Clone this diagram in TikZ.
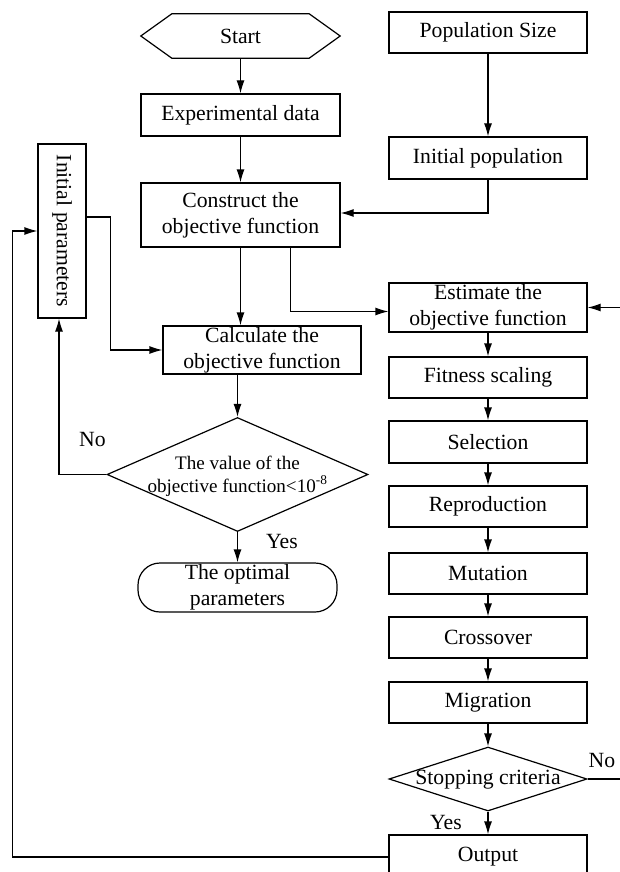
\documentclass[tikz,border=0pt]{standalone}
\usepackage{fontspec}
\setmainfont{Liberation Serif}
\usetikzlibrary{arrows.meta,shapes.geometric,calc}
\begin{document}
\begin{tikzpicture}[x=1pt,y=-1pt,
  every node/.style={font=\fontsize{21.7}{26}\selectfont, inner sep=0pt, align=center},
  box/.style={draw, line width=1.2pt, minimum width=198pt, minimum height=41pt},
  arr/.style={line width=1.2pt, -{Latex[length=13pt,width=8pt]}},
  ln/.style={line width=1.2pt},
  dia/.style={draw, diamond, line width=1.2pt, inner sep=0pt},
  lbl/.style={anchor=base}
]
\useasboundingbox (0,0) rectangle (619,872);

% left column
\node[minimum width=199pt, minimum height=44pt] (start) at (240.5,36) {Start};
\draw[ln] (start.west) -- ($(start.north west)+(31,0)$) -- ($(start.north east)+(-31,0)$)
  -- (start.east) -- ($(start.south east)+(-31,0)$) -- ($(start.south west)+(31,0)$) -- cycle;
\node[box, minimum width=199pt, minimum height=42pt] (expdata) at (240.5,115) {Experimental data};
\node[box, minimum width=199pt, minimum height=64pt] (construct) at (240.5,215) {Construct the\\objective function};
\node[box, minimum width=48pt, minimum height=174pt] (initparams) at (62,231) {};
\node[rotate=-90] (initparamst) at (62,231) {Initial parameters};
\node[box, minimum width=198pt, minimum height=48pt] (calc) at (262,350) {Calculate the\\objective function};
\node[dia, minimum width=261pt, minimum height=114pt] (dec1) at (237.5,474.5) {};
\node[font=\fontsize{19.1}{23}\selectfont] (dec1t) at (237.5,476) {The value of the\\objective function<10\textsuperscript{-8}};
\node[draw, line width=1.2pt, rounded corners=22pt, minimum width=199pt, minimum height=49pt] (optimal) at (237.5,587.5) {The optimal\\parameters};

% right column
\node[box] (popsize) at (488,32.5) {Population Size};
\node[box, minimum height=42pt] (initpop) at (488,158) {Initial population};
\node[box, minimum height=49pt] (estimate) at (488,307.5) {Estimate the\\objective function};
\node[box] (fitness) at (488,377.5) {Fitness scaling};
\node[box, minimum height=42pt] (selection) at (488,442) {Selection};
\node[box] (reproduction) at (488,506.5) {Reproduction};
\node[box] (mutation) at (488,573.5) {Mutation};
\node[box] (crossover) at (488,637.5) {Crossover};
\node[box] (migration) at (488,702.5) {Migration};
\node[dia, minimum width=198pt, minimum height=64pt] (stop) at (488,779) {};
\node (stopt) at (488,780) {Stopping criteria};
\node[box, minimum height=44pt] (output) at (488,857) {Output};

% labels
\node[lbl] (no1) at (92.5,446) {No};
\node[lbl] (yes1) at (282,548) {Yes};
\node[lbl] (no2) at (602,767) {No};
\node[lbl] (yes2) at (446,829) {Yes};

% connectors
\draw[arr] (start.south) -- (expdata.north);
\draw[arr] (expdata.south) -- (construct.north);
\draw[arr] (popsize.south) -- (initpop.north);
\draw[arr] (initpop.south) |- ($(construct.east)+(0,-2)$);
\draw[arr] (construct.south) -- (construct.south |- calc.north);
\draw[arr] ($(construct.south)+(50,0)$) |- ($(estimate.west)+(0,4)$);
\draw[arr] ($(initparams.east)+(0,-14)$) -| ($(calc.west)+(-52,0)$) -- (calc.west);
\draw[arr] (dec1.north |- calc.south) -- (dec1.north);
\draw[arr] (dec1.west) -| ($(initparams.south)+(-3,0)$);
\draw[arr] (dec1.south) -- (optimal.north);
\draw[arr] (estimate.south) -- (fitness.north);
\draw[arr] (fitness.south) -- (selection.north);
\draw[arr] (selection.south) -- (reproduction.north);
\draw[arr] (reproduction.south) -- (mutation.north);
\draw[arr] (mutation.south) -- (crossover.north);
\draw[arr] (crossover.south) -- (migration.north);
\draw[arr] (migration.south) -- (stop.north);
\draw[arr] (stop.south) -- (output.north);
\draw[arr] (stop.east) -- ++(34,0) |- (estimate.east);
\draw[arr] (output.west) -| ($(initparams.west)+(-25,0)$) -- (initparams.west);
\end{tikzpicture}
\end{document}
